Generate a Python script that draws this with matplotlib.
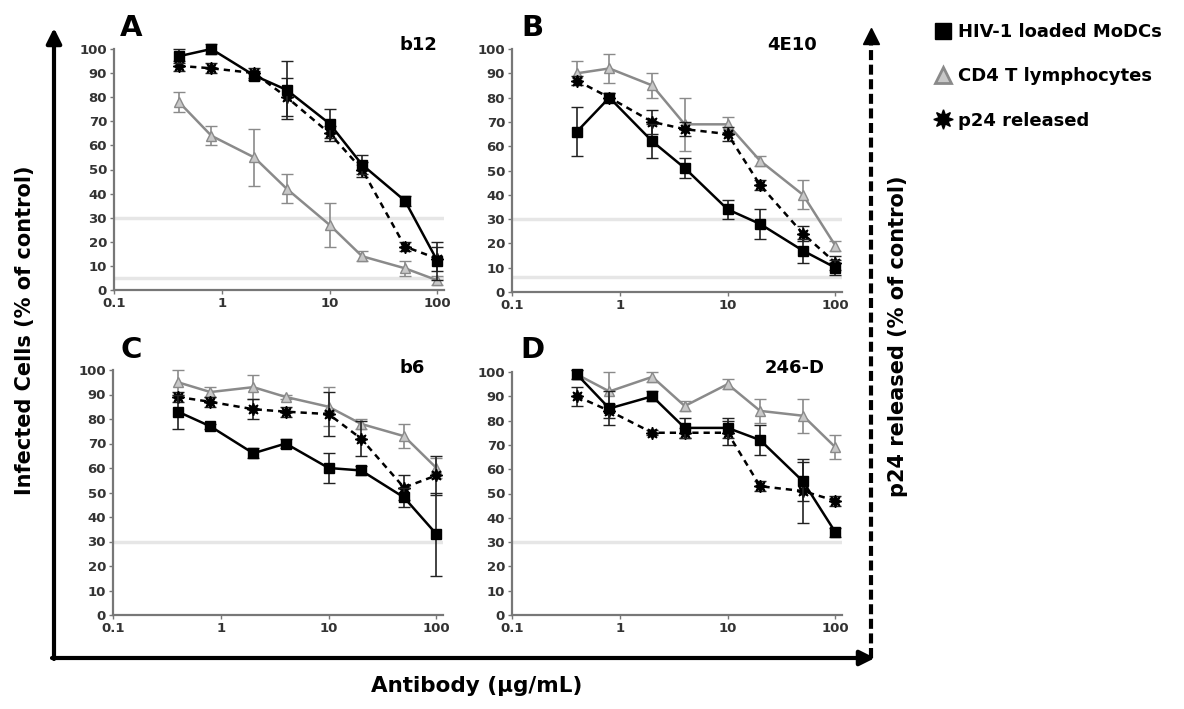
import numpy as np
import matplotlib
matplotlib.use("Agg")
import matplotlib.pyplot as plt
from matplotlib.lines import Line2D

plt.rcParams['font.family'] = ['DejaVu Sans']

# ---------------- data ----------------
conc = [0.4, 0.8, 2, 4, 10, 20, 50, 100]

panels = ["A", "B", "C", "D"]
antibodies = ["b12", "4E10", "b6", "246-D"]

# HIV-1 loaded MoDCs (black squares, solid)
modc_A = [97, 100, 89, 83, 69, 52, 37, 12]
modc_A_err = [3, 2, 2, 12, 6, 4, 2, 8]
modc_B = [66, 80, 62, 51, 34, 28, 17, 10]
modc_B_err = [10, 2, 7, 4, 4, 6, 5, 3]
modc_C = [83, 77, 66, 70, 60, 59, 48, 33]
modc_C_err = [7, 1, 2, 2, 6, 2, 4, 17]
modc_D = [99, 85, 90, 77, 77, 72, 55, 34]
modc_D_err = [2, 7, 2, 4, 4, 6, 8, 2]

# CD4 T lymphocytes (gray triangles, solid)
cd4_A = [78, 64, 55, 42, 27, 14, 9, 4]
cd4_A_err = [4, 4, 12, 6, 9, 2, 3, 2]
cd4_B = [90, 92, 85, 69, 69, 54, 40, 19]
cd4_B_err = [5, 6, 5, 11, 3, 2, 6, 2]
cd4_C = [95, 91, 93, 89, 85, 78, 73, 60]
cd4_C_err = [5, 2, 5, 1, 8, 2, 5, 4]
cd4_D = [99, 92, 98, 86, 95, 84, 82, 69]
cd4_D_err = [2, 8, 2, 2, 2, 5, 7, 5]

# p24 released (black stars, dashed)
p24_A = [93, 92, 90, 80, 65, 50, 18, 13]
p24_A_err = [2, 2, 2, 8, 3, 3, 2, 5]
p24_B = [87, 80, 70, 67, 65, 44, 24, 12]
p24_B_err = [2, 2, 5, 3, 3, 2, 3, 3]
p24_C = [89, 87, 84, 83, 82, 72, 52, 57]
p24_C_err = [2, 2, 4, 2, 9, 7, 5, 8]
p24_D = [90, 84, 75, 75, 75, 53, 51, 47]
p24_D_err = [4, 3, 1, 2, 5, 2, 13, 2]

modc = [modc_A, modc_B, modc_C, modc_D]
modc_err = [modc_A_err, modc_B_err, modc_C_err, modc_D_err]
cd4 = [cd4_A, cd4_B, cd4_C, cd4_D]
cd4_err = [cd4_A_err, cd4_B_err, cd4_C_err, cd4_D_err]
p24 = [p24_A, p24_B, p24_C, p24_D]
p24_err = [p24_A_err, p24_B_err, p24_C_err, p24_D_err]

yticks = [0, 10, 20, 30, 40, 50, 60, 70, 80, 90, 100]
xticks = [0.1, 1, 10, 100]
xticklabels = ["0.1", "1", "10", "100"]

legend_labels = ["HIV-1 loaded MoDCs", "CD4 T lymphocytes", "p24 released"]

# ---------------- figure ----------------
W, H = 1184, 709
fig = plt.figure(figsize=(W / 100, H / 100), dpi=100)

# pixel boxes (left, right, top, bottom)
boxes = [(114, 444, 49, 290), (512, 842, 49, 292),
         (113, 443, 370, 615), (512, 842, 372, 615)]
letter_pos = [(131, 28), (532, 28), (131, 350), (532, 350)]
title_pos = [(418, 45), (792, 45), (412, 368), (795, 368)]
faint_lines = [[30, 5], [30, 6], [30], [30]]

gray = "#8a8a8a"
for i, (l, r, t, b) in enumerate(boxes):
    ax = fig.add_axes([l / W, 1 - b / H, (r - l) / W, (b - t) / H])
    ax.set_xscale("log")
    ax.set_xlim(0.1, 115)
    ax.set_ylim(0, 100)
    for yv in faint_lines[i]:
        ax.axhline(yv, color="#e6e6e6", lw=2.5, zorder=0)
    ax.errorbar(conc, cd4[i], yerr=cd4_err[i], color=gray, ecolor=gray,
                lw=1.8, marker="^", ms=7, mfc="#c8c8c8", mec=gray,
                capsize=4, elinewidth=1.2, clip_on=False, zorder=3)
    ax.errorbar(conc, p24[i], yerr=p24_err[i], color="black", ecolor="#222222",
                lw=1.8, ls=(0, (2.5, 2)), marker=(8, 1, 0), ms=9, mfc="black",
                mec="black", capsize=4, elinewidth=1.2, clip_on=False, zorder=4)
    ax.errorbar(conc, modc[i], yerr=modc_err[i], color="black", ecolor="#222222",
                lw=1.8, marker="s", ms=6.5, mfc="black", mec="black",
                capsize=4, elinewidth=1.2, clip_on=False, zorder=5)
    for s in ["top", "right"]:
        ax.spines[s].set_visible(False)
    for s in ["left", "bottom"]:
        ax.spines[s].set_color("#777777")
        ax.spines[s].set_linewidth(1.6)
    ax.set_yticks(yticks)
    ax.set_yticklabels([str(v) for v in yticks], fontsize=9.5, color="#333333",
                       fontweight="bold")
    ax.set_xticks(xticks)
    ax.set_xticklabels(xticklabels, fontsize=9.5, color="#333333",
                       fontweight="bold")
    ax.xaxis.set_minor_locator(matplotlib.ticker.NullLocator())
    ax.tick_params(axis="both", length=3, width=1, color="#777777", pad=2)
    ax.set_facecolor("none")
    lx, ly = letter_pos[i]
    fig.text(lx / W, 1 - ly / H, panels[i], fontsize=21, fontweight="bold",
             ha="center", va="center")
    tx, ty = title_pos[i]
    fig.text(tx / W, 1 - ty / H, antibodies[i], fontsize=13, fontweight="bold",
             ha="center", va="center")

# outer arrows
ov = fig.add_axes([0, 0, 1, 1], facecolor="none")
ov.set_xlim(0, W)
ov.set_ylim(H, 0)
ov.axis("off")
ov.annotate("", xy=(54, 28), xytext=(54, 659),
            arrowprops=dict(arrowstyle="-|>,head_length=0.9,head_width=0.45",
                            lw=3, color="black", shrinkA=0, shrinkB=0))
ov.annotate("", xy=(875, 658), xytext=(52, 658),
            arrowprops=dict(arrowstyle="-|>,head_length=0.9,head_width=0.45",
                            lw=3, color="black", shrinkA=0, shrinkB=0))
ov.plot([871, 871], [658, 42], color="black", lw=3, ls=(0, (2.4, 1.1)))
ov.plot([871], [36], marker="^", ms=12, color="black", ls="none")

fig.text(25 / W, 1 - 330 / H, "Infected Cells (% of control)", rotation=90,
         fontsize=15, fontweight="bold", ha="center", va="center")
fig.text(898 / W, 1 - 336 / H, "p24 released (% of control)", rotation=90,
         fontsize=15, fontweight="bold", ha="center", va="center")
fig.text(477 / W, 1 - 686 / H, "Antibody (µg/mL)", fontsize=15.5,
         fontweight="bold", ha="center", va="center")

# legend
handles = [
    Line2D([], [], ls="none", marker="s", ms=12, mfc="black", mec="black"),
    Line2D([], [], ls="none", marker="^", ms=12, mfc="#c8c8c8", mec=gray, mew=2),
    Line2D([], [], ls="none", marker=(8, 1, 0), ms=14, mfc="black", mec="black"),
]
fig.legend(handles, legend_labels, loc="upper left",
           bbox_to_anchor=(925 / W, 1 - 16 / H), frameon=False,
           prop=dict(size=13, weight="bold"), handletextpad=0.2,
           labelspacing=1.45, handlelength=1.2, borderaxespad=0)

fig.savefig("out.png", dpi=100)
